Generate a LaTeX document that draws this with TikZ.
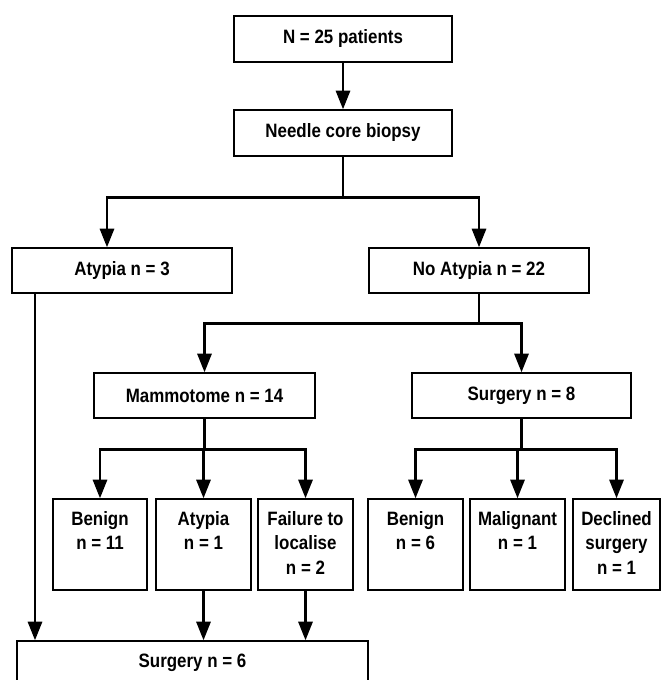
\documentclass[tikz,border=0pt]{standalone}
\usepackage{fontspec}
\setmainfont{Liberation Sans}[FakeStretch=0.875]
\usetikzlibrary{arrows.meta}

\newdimen\px \px=0.03cm
\newcommand{\leaftext}[2]{\parbox[c][91\px][t]{#1\px}{\centering\vspace*{12\px}#2}}

\tikzset{
  box/.style={draw, line width=1.1pt, inner sep=0pt, minimum height=45\px,
    font=\fontsize{16.5pt}{21pt}\selectfont\bfseries},
  leaf/.style={draw, line width=1.1pt, inner sep=0pt,
    font=\fontsize{16.5pt}{21pt}\selectfont\bfseries},
  flow/.style={line width=2.5pt, -{Triangle[width=12pt,length=16pt]}},
}

\begin{document}
\begin{tikzpicture}[x=0.03cm, y=-0.03cm]
\clip (0,0) rectangle (665,680);

% top of the chart
\node[box, minimum width=218\px, minimum height=46\px] (total) at (343,39) {N = 25 patients};
\node[box, minimum width=218\px, minimum height=46\px] (needle) at (343,133) {Needle core biopsy};

% first split
\node[box, minimum width=220\px] (atyp3) at (122,270.5) {Atypia n = 3};
\node[box, minimum width=220\px] (noatyp) at (479,270.5) {No Atypia n = 22};

% second split
\node[box, minimum width=221\px] (mammo) at (204.5,395.5) {Mammotome n = 14};
\node[box, minimum width=219\px] (surg8) at (521.5,395.5) {Surgery n = 8};

% outcomes
\node[leaf] (ben11) at (100,544.5) {\leaftext{94}{Benign\\ n = 11}};
\node[leaf] (atyp1) at (203.5,544.5) {\leaftext{95}{Atypia\\ n = 1}};
\node[leaf] (fail) at (305.5,544.5) {\leaftext{95}{Failure to\\ localise\\ n = 2}};
\node[leaf] (ben6) at (415.5,544.5) {\leaftext{95}{Benign\\ n = 6}};
\node[leaf] (malig) at (517.5,544.5) {\leaftext{95}{Malignant\\ n = 1}};
\node[leaf] (decl) at (616.5,544.5) {\leaftext{87}{Declined\\ surgery\\ n = 1}};

\node[box, minimum width=351\px, minimum height=43\px] (surg6) at (192.5,662.5) {Surgery n = 6};

% connectors
\draw[flow] (total) -- (needle);
\draw[flow] (needle.south) -- ++(0,41) -| ([xshift=-15\px]atyp3.north);
\draw[flow] (needle.south) -- ++(0,41) -| (noatyp.north);
\draw[flow] (noatyp.south) -- ++(0,30) -| (mammo.north);
\draw[flow] (noatyp.south) -- ++(0,30) -| (surg8.north);
\foreach \n in {ben11, atyp1, fail}
  \draw[flow] (mammo.south) -- ++(0,31) -| (\n.north);
\foreach \n in {ben6, malig, decl}
  \draw[flow] (surg8.south) -- ++(0,31) -| (\n.north);

% into surgery
\draw[flow] ([xshift=-87\px]atyp3.south) -- ([xshift=-87\px]atyp3.south |- surg6.north);
\draw[flow] (atyp1.south) -- (atyp1.south |- surg6.north);
\draw[flow] (fail.south) -- (fail.south |- surg6.north);
\end{tikzpicture}
\end{document}
